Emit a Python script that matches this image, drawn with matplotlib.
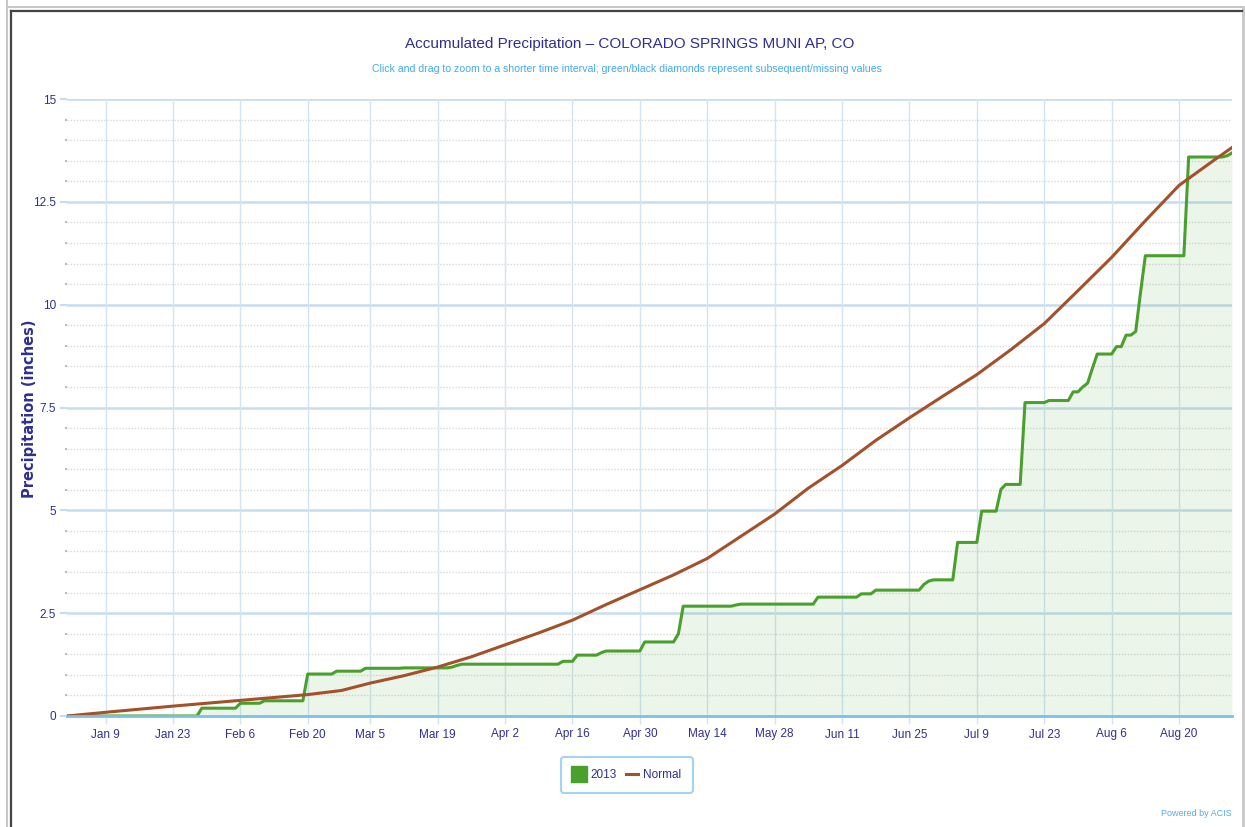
import numpy as np
import pandas as pd
import matplotlib
matplotlib.use('Agg')
import matplotlib.pyplot as plt
from matplotlib.lines import Line2D

NARROW = ['Liberation Sans Narrow', 'Liberation Sans', 'DejaVu Sans']
NAVY = '#2f2f92'

# 2013 accumulated totals (inches) on the days that they changed
rain_dates = ['2013-01-29', '2013-02-06', '2013-02-11', '2013-02-20', '2013-02-26',
              '2013-03-04', '2013-03-12', '2013-03-22', '2013-03-23', '2013-03-24',
              '2013-04-14', '2013-04-17', '2013-04-22', '2013-04-23', '2013-05-01',
              '2013-05-08', '2013-05-09', '2013-05-20', '2013-05-21', '2013-06-06',
              '2013-06-15', '2013-06-18', '2013-06-28', '2013-06-29', '2013-06-30',
              '2013-07-05', '2013-07-10', '2013-07-14', '2013-07-15', '2013-07-19',
              '2013-07-24', '2013-07-29', '2013-07-31', '2013-08-01', '2013-08-02',
              '2013-08-03', '2013-08-07', '2013-08-09', '2013-08-11', '2013-08-12',
              '2013-08-13', '2013-08-22', '2013-08-30', '2013-08-31']
rain_totals = [0.19, 0.31, 0.37, 1.02, 1.09,
               1.16, 1.17, 1.19, 1.23, 1.26,
               1.33, 1.48, 1.54, 1.58, 1.80,
               2.00, 2.67, 2.70, 2.72, 2.89,
               2.97, 3.06, 3.20, 3.28, 3.31,
               4.22, 4.98, 5.51, 5.63, 7.62,
               7.67, 7.88, 8.00, 8.09, 8.45,
               8.80, 8.98, 9.26, 9.35, 10.30,
               11.19, 13.59, 13.62, 13.69]

# normal accumulated precipitation
normal_dates = ['2013-01-01', '2013-01-09', '2013-01-23', '2013-02-06', '2013-02-20',
                '2013-02-27', '2013-03-05', '2013-03-12', '2013-03-19', '2013-03-26',
                '2013-04-02', '2013-04-09', '2013-04-16', '2013-04-23', '2013-04-30',
                '2013-05-07', '2013-05-14', '2013-05-21', '2013-05-28', '2013-06-04',
                '2013-06-11', '2013-06-18', '2013-06-25', '2013-07-02', '2013-07-09',
                '2013-07-16', '2013-07-23', '2013-07-30', '2013-08-06', '2013-08-13',
                '2013-08-20', '2013-08-27', '2013-08-31']
normal_totals = [0.0, 0.09, 0.24, 0.38, 0.52,
                 0.62, 0.80, 0.98, 1.19, 1.44,
                 1.73, 2.02, 2.33, 2.71, 3.07,
                 3.43, 3.83, 4.37, 4.91, 5.54,
                 6.09, 6.70, 7.25, 7.78, 8.30,
                 8.90, 9.54, 10.34, 11.15, 12.04,
                 12.90, 13.49, 13.82]

tick_dates = ['2013-01-09', '2013-01-23', '2013-02-06', '2013-02-20', '2013-03-05',
              '2013-03-19', '2013-04-02', '2013-04-16', '2013-04-30', '2013-05-14',
              '2013-05-28', '2013-06-11', '2013-06-25', '2013-07-09', '2013-07-23',
              '2013-08-06', '2013-08-20']
tick_labels = ['Jan 9', 'Jan 23', 'Feb 6', 'Feb 20', 'Mar 5', 'Mar 19', 'Apr 2',
               'Apr 16', 'Apr 30', 'May 14', 'May 28', 'Jun 11', 'Jun 25', 'Jul 9',
               'Jul 23', 'Aug 6', 'Aug 20']
y_ticks = [0, 2.5, 5, 7.5, 10, 12.5, 15]
y_labels = ['0', '2.5', '5', '7.5', '10', '12.5', '15']


def main():
    days = pd.date_range('2013-01-01', '2013-08-31', freq='D')
    obs = pd.Series(rain_totals, index=pd.to_datetime(rain_dates))
    obs = obs.reindex(days).ffill().fillna(0.0)

    fig = plt.figure(figsize=(12.45, 8.27), dpi=100)
    ax = fig.add_axes([67 / 1245, 1 - 716 / 827, 1165 / 1245, 617 / 827])

    # frame of the screenshot
    for xs, ys, c, w in [([7, 7], [0, 827], '#c8c8c8', 1.5),
                         ([7, 1243], [7, 7], '#c8c8c8', 1.5),
                         ([1243, 1243], [7, 827], '#c8c8c8', 2.0),
                         ([10.5, 10.5], [11, 827], '#444444', 1.6),
                         ([10.5, 1242], [11, 11], '#444444', 1.6)]:
        fig.add_artist(Line2D([x / 1245 for x in xs], [1 - y / 827 for y in ys],
                              color=c, lw=w))

    # grid
    for v in np.arange(0.5, 15, 0.5):
        if v % 2.5:
            ax.axhline(v, color='#d9d9d9', lw=1.0, ls=(0, (1, 1.2)), zorder=0)
    for v in y_ticks[1:]:
        ax.axhline(v, color='#c6ddf1', lw=1.8, zorder=0)
    for d in pd.to_datetime(tick_dates):
        ax.axvline(d, color='#d3e4f3', lw=1.0, zorder=0)

    ax.fill_between(obs.index, 0, obs.values, color='#4aa02c', alpha=0.1, lw=0, zorder=1)
    ax.plot(obs.index, obs.values, color='#4aa02c', lw=2.2, zorder=3)
    ax.plot(pd.to_datetime(normal_dates), normal_totals, color='#a3512a', lw=2.2,
            zorder=4, solid_joinstyle='round')

    ax.set_xlim(days[0], days[-1])
    ax.set_ylim(0, 15)

    ax.set_xticks(pd.to_datetime(tick_dates))
    ax.set_xticklabels(tick_labels, family=NARROW, fontsize=8.5, color=NAVY)
    ax.set_yticks(y_ticks)
    ax.set_yticklabels(y_labels, family=NARROW, fontsize=8.5, color=NAVY)
    ax.set_yticks(np.arange(0.5, 15, 0.5), minor=True)
    ax.tick_params(axis='x', length=6, width=1, color='#d3e4f3', pad=3)
    ax.tick_params(axis='y', which='major', length=5, width=1.5, color='#c6ddf1', pad=3)
    ax.tick_params(axis='y', which='minor', length=1.5, width=1.5, color='#bbbbbb')

    for s in ['top', 'right', 'left']:
        ax.spines[s].set_visible(False)
    ax.spines['bottom'].set_color('#7cc0e8')
    ax.spines['bottom'].set_linewidth(2)
    ax.spines['bottom'].set_zorder(5)
    ax.patch.set_alpha(0)

    fig.text(30 / 1245, 1 - 409 / 827, 'Precipitation (inches)', rotation=90,
             ha='center', va='center', fontsize=10.5, fontweight='bold', color=NAVY)

    fig.text(630 / 1245, 1 - 44 / 827,
             'Accumulated Precipitation \u2013 COLORADO SPRINGS MUNI AP, CO',
             ha='center', va='center', family=NARROW, fontsize=11, color=NAVY)
    fig.text(627 / 1245, 1 - 69 / 827,
             'Click and drag to zoom to a shorter time interval; green/black diamonds '
             'represent subsequent/missing values',
             ha='center', va='center', family=NARROW, fontsize=7.6, color='#44aaee')
    fig.text(1232 / 1245, 1 - 814 / 827, 'Powered by ACIS', ha='right', va='center',
             family=NARROW, fontsize=6.5, color='#55aaee')

    handles = [Line2D([], [], color='#4aa02c', marker='s', ls='none', markersize=11),
               Line2D([], [], color='#a3512a', lw=2.2)]
    leg = fig.legend(handles, ['2013', 'Normal'], loc='center',
                     bbox_to_anchor=(627 / 1245, 1 - 775 / 827), ncol=2,
                     frameon=True, fancybox=True, handlelength=1.0, handletextpad=0.45,
                     columnspacing=0.8, borderpad=1.0,
                     prop={'family': NARROW, 'size': 8.5})
    for t in leg.get_texts():
        t.set_color(NAVY)
    leg.get_frame().set_edgecolor('#8ccbf0')
    leg.get_frame().set_linewidth(1.5)

    fig.savefig('out.png', dpi=100, facecolor='white')


if __name__ == '__main__':
    main()
